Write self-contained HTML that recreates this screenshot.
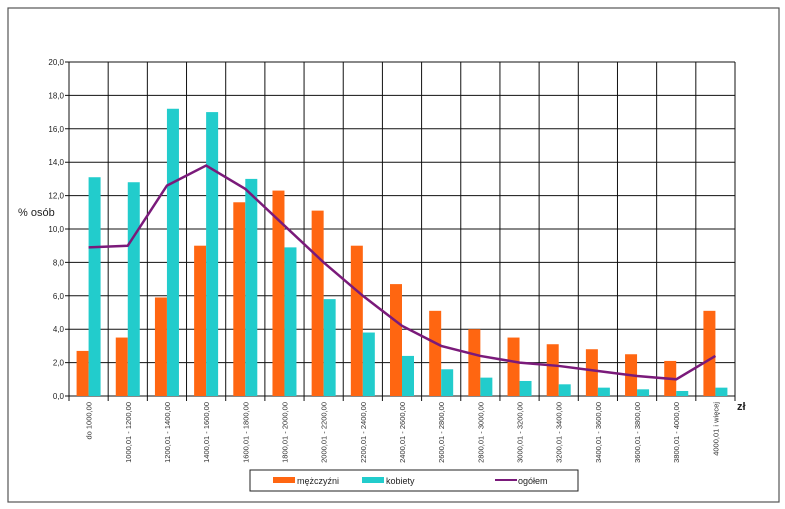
<!DOCTYPE html>
<html><head><meta charset="utf-8"><style>
body{margin:0;background:#fff;font-family:"Liberation Sans",sans-serif;}
svg{display:block}
</style></head><body>
<svg width="785" height="509" id="c">
<rect x="8" y="8" width="771" height="494" fill="#fff" stroke="#555" stroke-width="1.2"/>
<g id="grid"></g><g id="bars"></g><g id="line"></g><g id="labels"></g>
<text x="18" y="216" font-size="11" fill="#222">% osób</text>
<text x="737" y="410" font-size="11" font-weight="bold" fill="#222">zł</text>
<g>
<rect x="250" y="470" width="328" height="21" fill="#fff" stroke="#222"/>
<rect x="273" y="477" width="22" height="6" fill="#ff6611"/>
<text x="297" y="484" font-size="9" fill="#222">mężczyźni</text>
<rect x="362" y="477" width="22" height="6" fill="#22cccc"/>
<text x="386" y="484" font-size="9" fill="#222">kobiety</text>
<rect x="495" y="479" width="22" height="2" fill="#7a1a7a"/>
<text x="518" y="484" font-size="9" fill="#222">ogółem</text>
</g>
</svg>
<script>
const categories=["do 1000,00","1000,01 - 1200,00","1200,01 - 1400,00","1400,01 - 1600,00","1600,01 - 1800,00","1800,01 - 2000,00","2000,01 - 2200,00","2200,01 - 2400,00","2400,01 - 2600,00","2600,01 - 2800,00","2800,01 - 3000,00","3000,01 - 3200,00","3200,01 - 3400,00","3400,01 - 3600,00","3600,01 - 3800,00","3800,01 - 4000,00","4000,01 i więcej"];
const men=[2.7,3.5,5.9,9.0,11.6,12.3,11.1,9.0,6.7,5.1,4.0,3.5,3.1,2.8,2.5,2.1,5.1];
const women=[13.1,12.8,17.2,17.0,13.0,8.9,5.8,3.8,2.4,1.6,1.1,0.9,0.7,0.5,0.4,0.3,0.5];
const total=[8.9,9.0,12.6,13.8,12.4,10.2,8.0,6.0,4.2,3.0,2.4,2.0,1.8,1.5,1.2,1.0,2.4];
const yTicks=["0,0","2,0","4,0","6,0","8,0","10,0","12,0","14,0","16,0","18,0","20,0"];
const NS="http://www.w3.org/2000/svg";
const L=69,R=735,T=62,B=396,YMAX=20;
const bw=(R-L)/categories.length;
const y=v=>B-(v/YMAX)*(B-T);
const x=i=>L+i*bw;
function mk(t,a,p){const e=document.createElementNS(NS,t);for(const k in a)e.setAttribute(k,a[k]);p.appendChild(e);return e;}
const grid=document.getElementById('grid'),bars=document.getElementById('bars'),line=document.getElementById('line'),labels=document.getElementById('labels');
yTicks.forEach((t,i)=>{const v=i*2;
 const g=mk('line',{x1:L-4,x2:R,y1:y(v),y2:y(v),stroke:'#111','stroke-width':1},grid);
 
 
 const tx=mk('text',{x:L-5,y:y(v)+3,'font-size':8,'text-anchor':'end',fill:'#222'},labels);
 tx.textContent=t;
 
 
});
for(let i=0;i<=categories.length;i++){
 const g=mk('line',{x1:x(i),x2:x(i),y1:T,y2:B+5,stroke:'#111','stroke-width':1},grid);
 
 
}
categories.forEach((c,i)=>{
 const cx=x(i)+bw/2;
 const m=mk('rect',{x:cx-12,y:y(men[i]),width:12,height:B-y(men[i]),fill:'#ff6611'},bars);
 
 
 const w=mk('rect',{x:cx,y:y(women[i]),width:12,height:B-y(women[i]),fill:'#22cccc'},bars);
 
 
 const t=mk('text',{transform:`translate(${cx+3},402) rotate(-90)`,'font-size':7.5,'text-anchor':'end',fill:'#333'},labels);
 t.textContent=c;
 
 
});
const pts=total.map((v,i)=>(x(i)+bw/2)+','+y(v)).join(' ');
const pl=mk('polyline',{points:pts,fill:'none',stroke:'#7a1a7a','stroke-width':2.5},line);


</script>
</body></html>
